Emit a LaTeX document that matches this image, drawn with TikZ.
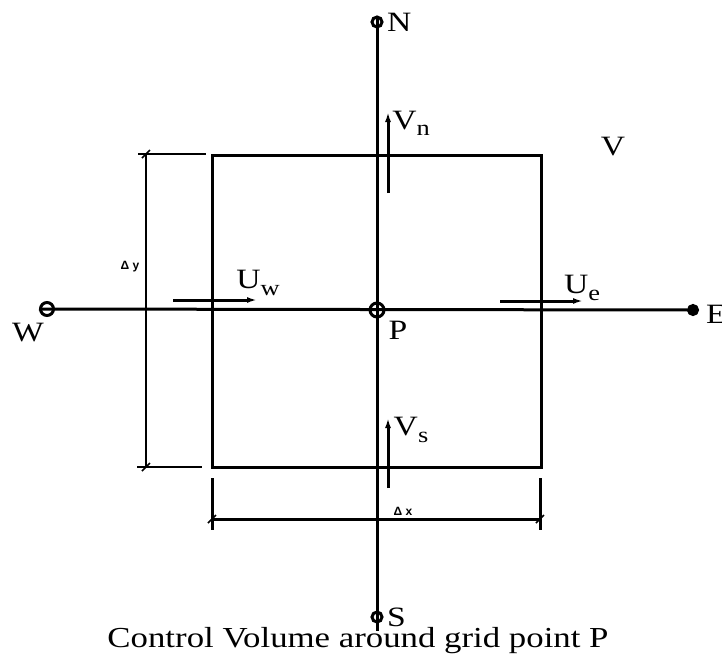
\documentclass[tikz,border=0pt]{standalone}
\usepackage{fontspec}
\setmainfont{Liberation Serif}[FakeStretch=1.2]
\newfontfamily\dimfont{Liberation Sans}
\usetikzlibrary{positioning,arrows.meta}
\newcommand{\lowsub}[1]{\raisebox{-0.22em}{\fontsize{22}{22}\selectfont #1}}

\begin{document}
\begin{tikzpicture}[x=1pt,y=-1pt,
  gridpt/.style={circle,draw,line width=3pt,inner sep=0pt,minimum size=10pt},
  lbl/.style={font=\fontsize{28}{28}\selectfont,inner sep=0pt},
  dimlbl/.style={font=\dimfont\bfseries\fontsize{12}{12}\selectfont,inner sep=0pt},
  flux/.style={line width=3pt,-{Latex[length=10pt,width=6pt]}}]
  \useasboundingbox (0,0) rectangle (722,665);

  % grid points
  \node[gridpt] (N) at (377,22) {};
  \node[gridpt] (S) at (377,617) {};
  \node[gridpt,minimum size=13pt] (W) at (47,309) {};
  \node[gridpt,minimum size=14pt] (P) at (377,310) {};
  \node[gridpt,fill,minimum size=9pt] (E) at (693,310) {};
  \coordinate (Send) at (377,631);

  \draw[line width=3pt] (N.north) -- (Send);
  \draw[line width=3pt] (W.west) -- (E.center);

  % control volume
  \draw[line width=3pt] (212,155) rectangle (541,467);

  % dimension dy
  \draw[line width=1.3pt]
    (138,154) -- (206,154)
    (137,467) -- (202,467)
    (146,154) -- (146,467);
  \foreach \yy in {154,467}{
    \draw[line width=1.6pt] (146-4,\yy+4) -- (146+4,\yy-4);
  }

  % dimension dx
  \draw[line width=3pt]
    (212,478) -- (212,530)
    (540,478) -- (540,530)
    (212,519) -- (540,519);
  \foreach \xx in {212,540}{
    \draw[line width=1.6pt] (\xx-4,519+4) -- (\xx+4,519-4);
  }

  % face velocities
  \draw[flux] (173,300) -- (257,300);
  \draw[flux] (500,301) -- (583,301);
  \draw[flux] (388,193) -- (388,112);
  \draw[flux] (388,488) -- (388,418);

  \node[lbl] (uw) at (258,283) {U\lowsub{w}};
  \node[lbl] (ue) at (582,288) {U\lowsub{e}};
  \node[lbl] (vn) at (411,123) {V\lowsub{n}};
  \node[lbl] (vs) at (411,430) {V\lowsub{s}};
  \node[lbl] (vv) at (613,147) {V};

  \node[lbl, right=10pt of N.center, anchor=west] (lN) {N};
  \node[lbl, right=10pt of S.center, anchor=west] (lS) {S};
  \node[lbl] (lW) at (28,333) {W};
  \node[lbl] (lP) at (398,330) {P};
  \node[lbl, anchor=west] (lE) at (706,314) {E};

  \node[dimlbl] (dy) at (130,267) {Δ y};
  \node[dimlbl] (dx) at (403,511) {Δ x};

  \node[lbl, font=\fontsize{29}{29}\selectfont, anchor=base] (cap) at (358,647) {Control Volume around grid point P};

\end{tikzpicture}
\end{document}
